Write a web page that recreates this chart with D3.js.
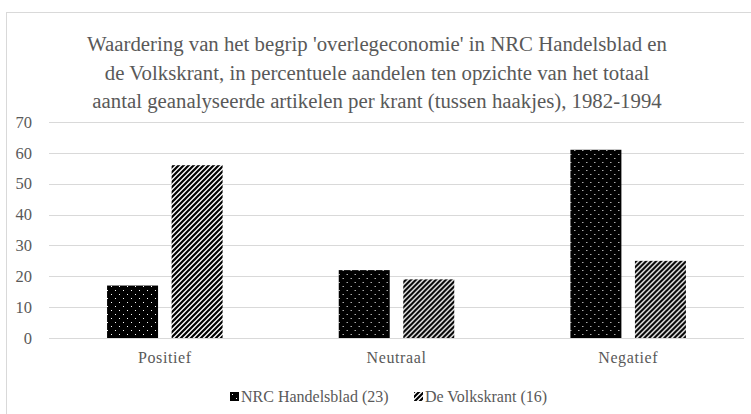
<!DOCTYPE html>
<html>
<head>
<meta charset="utf-8">
<script src="https://cdn.jsdelivr.net/npm/d3@7"></script>
<style>
  body { margin: 0; background: #fff; }
  text { font-family: "Liberation Serif", "Times New Roman", serif; fill: #595959; }
</style>
</head>
<body>
<div id="chart"></div>
<script>
var categories = ["Positief", "Neutraal", "Negatief"];
var seriesNames = ["NRC Handelsblad (23)", "De Volkskrant (16)"];
var nrcValues = [17, 22, 61];
var vkValues = [56, 19, 25];
var yTicks = [0, 10, 20, 30, 40, 50, 60, 70];
var titleLines = [
	"Waardering van het begrip 'overlegeconomie' in NRC Handelsblad en",
	"de Volkskrant, in percentuele aandelen ten opzichte van het totaal",
	"aantal geanalyseerde artikelen per krant (tussen haakjes), 1982-1994"
];

var width = 751, height = 414;
var svg = d3.select("#chart").append("svg")
	.attr("width", width)
	.attr("height", height);

// patterns
var defs = svg.append("defs");
var dots = defs.append("pattern")
	.attr("id", "dots")
	.attr("patternUnits", "userSpaceOnUse")
	.attr("width", 8)
	.attr("height", 8);
dots.append("rect").attr("width", 8).attr("height", 8).attr("fill", "#000");
dots.append("rect").attr("x", 2).attr("y", 2).attr("width", 1).attr("height", 1).attr("fill", "#fff");
dots.append("rect").attr("x", 6).attr("y", 6).attr("width", 1).attr("height", 1).attr("fill", "#fff");

var stripes = defs.append("pattern")
	.attr("id", "stripes")
	.attr("patternUnits", "userSpaceOnUse")
	.attr("width", 5)
	.attr("height", 5);
stripes.append("rect").attr("width", 5).attr("height", 5).attr("fill", "#fff");
stripes.append("path")
	.attr("d", "M0,5 L5,0 M-1,1 L1,-1 M4,6 L6,4")
	.attr("stroke", "#000")
	.attr("stroke-width", 2.2);

// chart border
svg.append("rect")
	.attr("x", 6.5).attr("y", 12.5)
	.attr("width", 760).attr("height", 420)
	.attr("fill", "none")
	.attr("stroke", "#d9d9d9");

// title
svg.append("g").selectAll("text")
	.data(titleLines)
	.enter()
	.append("text")
	.attr("x", 377)
	.attr("y", function (d, i) { return 51 + i * 28.5; })
	.attr("text-anchor", "middle")
	.style("font-size", "20.8px")
	.text(function (d) { return d; });

var margin = { left: 49, right: 744, top: 122, bottom: 338 };

var x0 = d3.scaleBand()
	.domain(categories)
	.range([margin.left, margin.right]);

var x1 = d3.scaleBand()
	.domain([0, 1])
	.range([0, x0.bandwidth()])
	.paddingInner(0.21)
	.paddingOuter(0.9);

var y = d3.scaleLinear()
	.domain([0, 70])
	.range([margin.bottom, margin.top]);

// grid
svg.append("g").selectAll("line")
	.data(yTicks)
	.enter()
	.append("line")
	.attr("x1", margin.left)
	.attr("x2", margin.right)
	.attr("y1", function (d) { return Math.round(y(d)) + 0.5; })
	.attr("y2", function (d) { return Math.round(y(d)) + 0.5; })
	.attr("stroke", "#d9d9d9")
	.attr("stroke-width", 1);

// y axis labels
var yAxis = d3.axisLeft(y).tickValues(yTicks).tickSize(0).tickPadding(0);
var yg = svg.append("g")
	.attr("transform", "translate(32,0)")
	.call(yAxis);
yg.select(".domain").remove();
yg.selectAll("text")
	.style("font-size", "16.5px")
	.style("font-family", "Liberation Serif, serif")
	.attr("fill", "#595959");

// bars
var rows = categories.map(function (c, i) {
	return { cat: c, vals: [nrcValues[i], vkValues[i]] };
});
var fills = ["url(#dots)", "url(#stripes)"];

var groups = svg.append("g").selectAll("g")
	.data(rows)
	.enter()
	.append("g")
	.attr("transform", function (d) { return "translate(" + x0(d.cat) + ",0)"; });

groups.selectAll("rect")
	.data(function (d) { return d.vals.map(function (v, j) { return { j: j, v: v }; }); })
	.enter()
	.append("rect")
	.attr("x", function (d) { return x1(d.j); })
	.attr("y", function (d) { return y(d.v); })
	.attr("width", x1.bandwidth())
	.attr("height", function (d) { return y(0) - y(d.v); })
	.attr("fill", function (d) { return fills[d.j]; });

// x axis labels
var xAxis = d3.axisBottom(x0).tickSize(0).tickPadding(0);
var xg = svg.append("g")
	.attr("transform", "translate(0,352)")
	.call(xAxis);
xg.select(".domain").remove();
xg.selectAll("text")
	.style("font-size", "16px")
	.style("letter-spacing", "0.6px")
	.style("font-family", "Liberation Serif, serif")
	.attr("fill", "#595959");

// legend
var legendX = [230, 414];
var legend = svg.append("g").selectAll("g")
	.data(seriesNames)
	.enter()
	.append("g")
	.attr("transform", function (d, i) { return "translate(" + legendX[i] + ",392)"; });
legend.append("rect")
	.attr("width", 9).attr("height", 9)
	.attr("fill", function (d, i) { return fills[i]; });
legend.append("text")
	.attr("x", 11)
	.attr("y", 9.5)
	.style("font-size", "16px")
	.text(function (d) { return d; });
</script>
</body>
</html>
